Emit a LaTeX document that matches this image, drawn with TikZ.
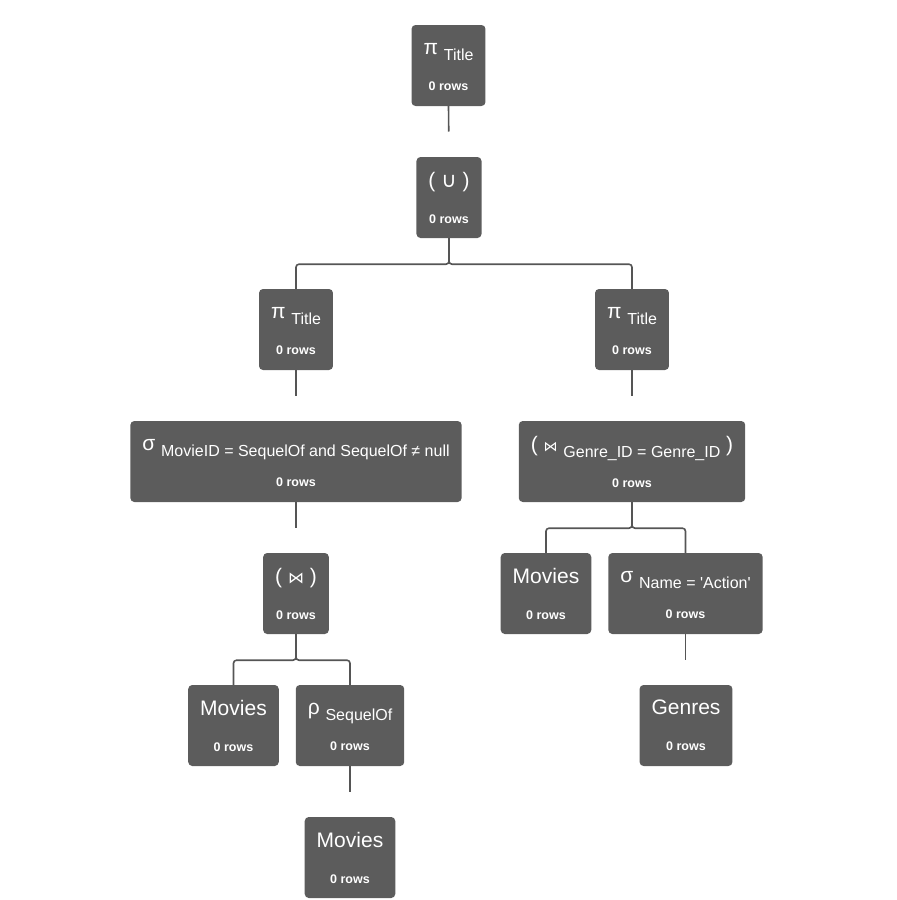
\documentclass[tikz,border=0pt]{standalone}
\usepackage{fontspec}
\setmainfont{Liberation Sans}
\newfontfamily\symfont{DejaVu Sans}
\usetikzlibrary{calc}
\definecolor{boxgray}{RGB}{92,92,92}
\definecolor{linegray}{RGB}{85,85,85}
\newcommand\opsub[1]{\vphantom{M}\raisebox{-6pt}[0pt][0pt]{\fontsize{16}{18}\selectfont #1}}
\newcommand\oprows{\\[12pt]{\fontsize{12.5}{15}\selectfont\bfseries 0 rows}}
\tikzset{
  opbox/.style={rectangle, rounded corners=4pt, fill=boxgray, text=white,
    minimum height=81pt, inner xsep=12pt, inner ysep=0pt, align=center,
    font=\fontsize{21}{24}\selectfont},
  edge/.style={draw=linegray, line width=1.6pt},
  fork/.style={edge, rounded corners=3pt}
}
\begin{document}
\begin{tikzpicture}[x=1pt,y=-1pt]
\useasboundingbox (0,0) rectangle (897,900);
% operator boxes
\node[opbox] (projtop) at (448.5,65.5) {π \opsub{Title}\oprows};
\node[opbox] (union) at (449,197.5) {\vphantom{M}( {\symfont ∪} )\oprows};
\node[opbox] (projl) at (296,329.5) {π \opsub{Title}\oprows};
\node[opbox] (projr) at (632,329.5) {π \opsub{Title}\oprows};
\node[opbox] (selseq) at (296,461.5) {σ \opsub{MovieID = SequelOf and SequelOf ≠ null}\oprows};
\node[opbox] (joingenre) at (632,461.5) {( {\symfont\fontsize{14}{16}\selectfont ⋈} \opsub{Genre\_ID = Genre\_ID} )\oprows};
\node[opbox] (join) at (296,593.5) {\vphantom{M}( {\symfont\fontsize{16}{18}\selectfont ⋈} )\oprows};
\node[opbox] (moviesa) at (546,593.5) {Movies\oprows};
\node[opbox] (selaction) at (685.5,593.5) {σ \opsub{Name = \textquotesingle Action\textquotesingle}\oprows};
\node[opbox] (genres) at (686,725.5) {Genres\oprows};
\node[opbox] (moviesb) at (233.5,725.5) {Movies\oprows};
\node[opbox] (rename) at (350,725.5) {ρ \opsub{SequelOf}\oprows};
\node[opbox] (moviesc) at (350,857.5) {Movies\oprows};
% connectors
\draw[edge] (projtop.south) -- ($(projtop.south)!0.5!(union.north)$);
\draw[fork] (union.south) -- ++(0,26) -| (projl.north);
\draw[fork] (union.south) -- ++(0,26) -| (projr.north);
\draw[edge] (projl.south) -- ($(projl.south)!0.5!(selseq.north)$);
\draw[edge] (projr.south) -- ($(projr.south)!0.5!(joingenre.north)$);
\draw[edge] (selseq.south) -- ($(selseq.south)!0.5!(selseq.south |- join.north)$);
\draw[fork] (joingenre.south) -- ++(0,26) -| (moviesa.north);
\draw[fork] (joingenre.south) -- ++(0,26) -| (selaction.north);
\draw[edge] (selaction.south) -- ($(selaction.south)!0.5!(selaction.south |- genres.north)$);
\draw[fork] (join.south) -- ++(0,26) -| (moviesb.north);
\draw[fork] (join.south) -- ++(0,26) -| (rename.north);
\draw[edge] (rename.south) -- ($(rename.south)!0.5!(moviesc.north)$);
\end{tikzpicture}
\end{document}
